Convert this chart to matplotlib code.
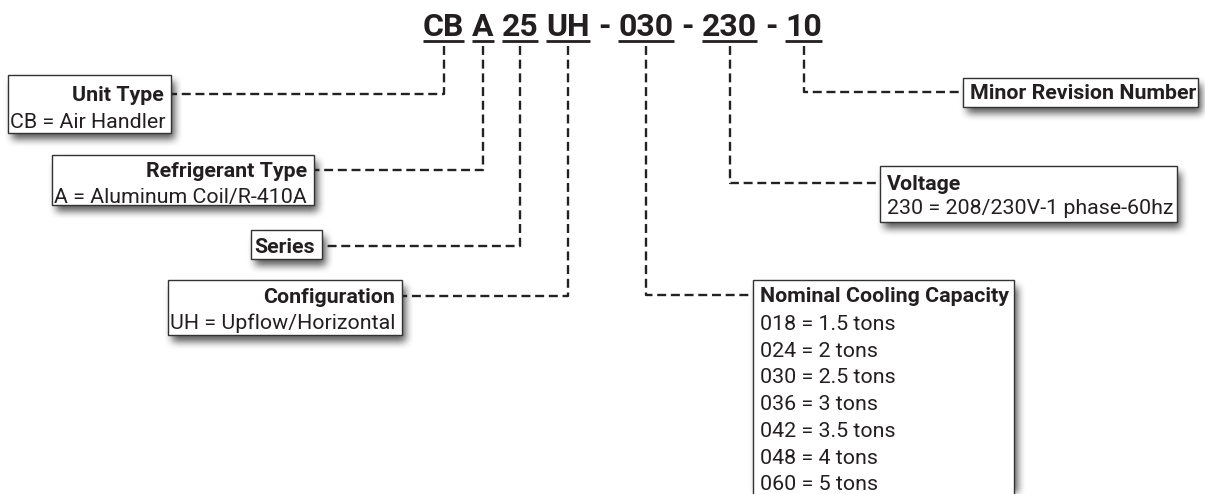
import numpy as np
import matplotlib.pyplot as plt
from matplotlib.patches import Rectangle

# model number segments (top line)
code_parts = ['CB', 'A', '25', 'UH', '-', '030', '-', '230', '-', '10']
underlined = [True, True, True, True, False, True, False, True, False, True]

# fields explained by each box
field_titles = ['Unit Type', 'Refrigerant Type', 'Series', 'Configuration',
                'Nominal Cooling Capacity', 'Voltage', 'Minor Revision Number']
field_codes = ['CB', 'A', '25', 'UH', '030', '230', '10']
unit_desc = ['CB = Air Handler']
refrig_desc = ['A = Aluminum Coil/R-410A']
series_desc = []
config_desc = ['UH = Upflow/Horizontal']
capacity_desc = ['018 = 1.5 tons', '024 = 2 tons', '030 = 2.5 tons', '036 = 3 tons',
                 '042 = 3.5 tons', '048 = 4 tons', '060 = 5 tons']
voltage_desc = ['230 = 208/230V-1 phase-60hz']
revision_desc = []
field_desc = [unit_desc, refrig_desc, series_desc, config_desc,
              capacity_desc, voltage_desc, revision_desc]

# layout in pixels (x0, y0, x1, y1), y measured from the top
W, H = 1205, 494
boxes = [(8, 75, 171, 133), (52, 155, 314, 205), (251, 230, 322, 259),
         (168, 280, 402, 335), (753, 280, 1014, 540), (880, 166, 1177, 222),
         (963, 78, 1198, 107)]
sides = ['left', 'left', 'left', 'left', 'right', 'right', 'right']
line_y = [94, 170, 246, 296, 295, 183, 92]
desc_y0 = [121, 196, 0, 322, 323, 207, 0]
desc_step = 26.7

TXT = '#231f20'
LINE = '#222222'
FONT = 'Roboto'
FS = 15.4

fig = plt.figure(figsize=(W / 100, H / 100), dpi=100)
ax = fig.add_axes([0, 0, 1, 1])
ax.set_xlim(0, W)
ax.set_ylim(H, 0)
ax.axis('off')

# ---- title line, laid out piece by piece ----
renderer = fig.canvas.get_renderer()
title_fs = 23
title_cx, title_base = 622.5, 35.5
probe = ax.text(0, 0, 'A A', fontsize=title_fs, fontweight='bold', family=FONT)
w_aa = probe.get_window_extent(renderer).width
probe.set_text('AA')
space_w = w_aa - probe.get_window_extent(renderer).width
probe.remove()

widths = []
for p in code_parts:
    t = ax.text(0, 0, p, fontsize=title_fs, fontweight='bold', family=FONT)
    widths.append(t.get_window_extent(renderer).width)
    t.remove()
total = sum(widths) + space_w * (len(code_parts) - 1)
x = title_cx - total / 2
part_center = {}
for p, w, u in zip(code_parts, widths, underlined):
    ax.text(x, title_base, p, fontsize=title_fs, fontweight='bold', family=FONT,
            color=TXT, ha='left', va='baseline')
    if u:
        ax.plot([x, x + w], [41, 41], color=TXT, lw=2.0, solid_capstyle='butt')
        part_center[p] = x + w / 2
    x += w + space_w

# ---- drop shadows (blurred offset rectangles) ----
shadow = np.zeros((H, W))
for (x0, y0, x1, y1) in boxes:
    shadow[max(y0 + 7, 0):min(y1 + 7, H), max(x0 + 4, 0):min(x1 + 4, W)] = 1.0
k = np.ones(9) / 9.0
for _ in range(2):
    shadow = np.apply_along_axis(lambda r: np.convolve(r, k, mode='same'), 1, shadow)
    shadow = np.apply_along_axis(lambda c: np.convolve(c, k, mode='same'), 0, shadow)
rgba = np.zeros((H, W, 4))
rgba[..., 3] = shadow * 0.65
ax.imshow(rgba, extent=(0, W, H, 0), zorder=1, interpolation='bilinear')
ax.set_xlim(0, W)
ax.set_ylim(H, 0)

# ---- boxes, labels and dashed connectors ----
dash = (0, (3.8, 2.0))
for title, code, desc, (x0, y0, x1, y1), side, ly, dy in zip(
        field_titles, field_codes, field_desc, boxes, sides, line_y, desc_y0):
    ax.add_patch(Rectangle((x0, y0), x1 - x0, y1 - y0, facecolor='white',
                           edgecolor='#333333', lw=1.0, zorder=2))
    if side == 'left':
        ax.text(x1 - 7, ly + 7, title, fontsize=FS, fontweight='bold', family=FONT,
                color=TXT, ha='right', va='baseline', zorder=3)
        dx = x0 + 2
        end_x = x1 + 1
    else:
        ax.text(x0 + 7, ly + 7, title, fontsize=FS, fontweight='bold', family=FONT,
                color=TXT, ha='left', va='baseline', zorder=3)
        dx = x0 + 7
        end_x = x0 - 1
    for i, d in enumerate(desc):
        ax.text(dx, dy + i * desc_step + 7, d, fontsize=FS, family=FONT,
                color=TXT, ha='left', va='baseline', zorder=3)
    cx = part_center[code]
    ax.plot([cx, cx, end_x], [46, ly, ly], color=LINE, lw=1.7,
            linestyle=dash, zorder=2)

fig.savefig('out.png', dpi=100, facecolor='white')
